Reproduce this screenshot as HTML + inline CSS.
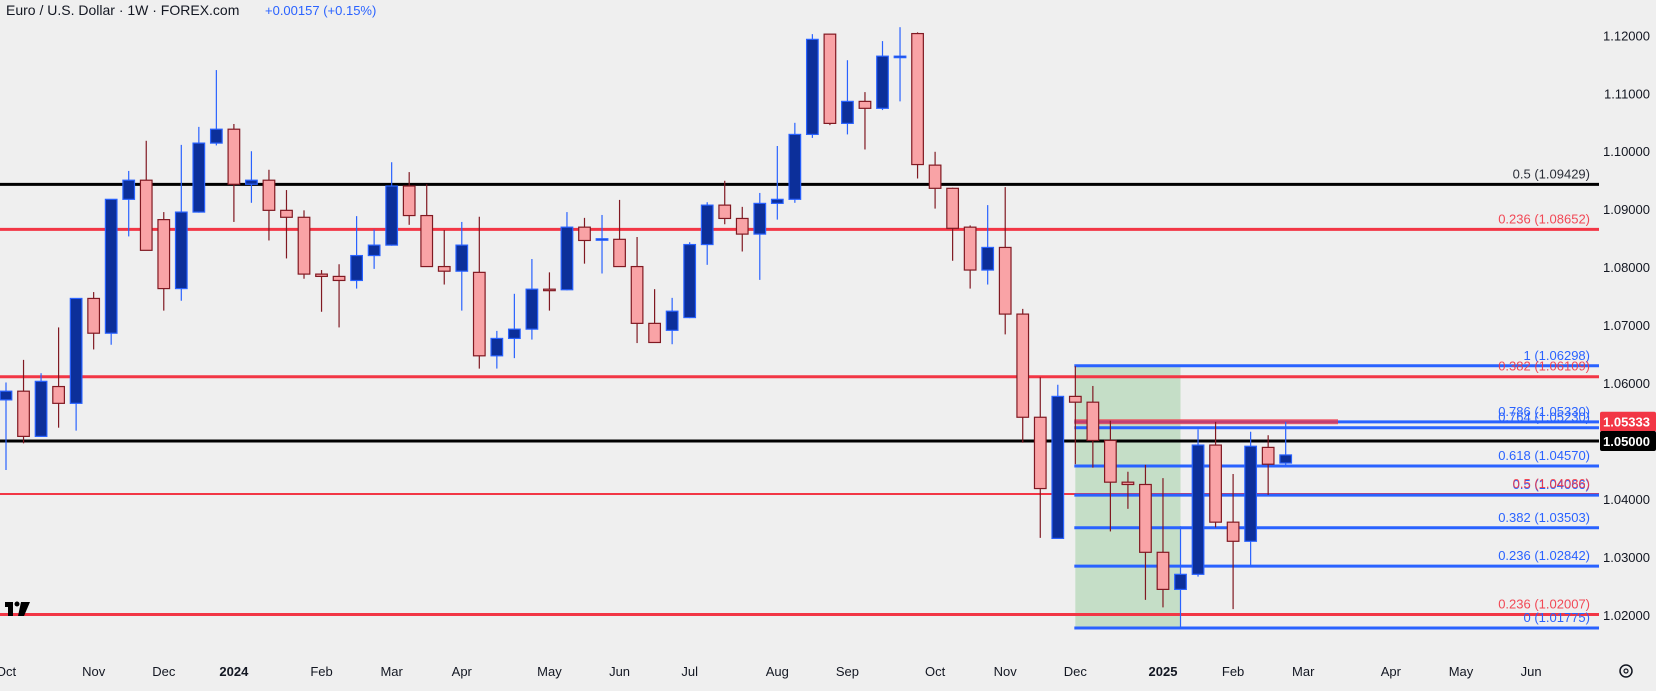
<!DOCTYPE html>
<html><head><meta charset="utf-8"><style>
html,body{margin:0;padding:0;background:#efefef;}
body{width:1656px;height:686px;overflow:hidden;font-family:"Liberation Sans",sans-serif;}
svg text{font-family:"Liberation Sans",sans-serif;}
</style></head><body>
<svg id="chart" width="1656" height="686" xmlns="http://www.w3.org/2000/svg">
<rect x="0" y="0" width="1656" height="686" fill="#efefef"/>
<g id="zone"></g>
<g id="hlines"></g>
<g id="candles"></g>
<g id="labels"></g>
<g id="yaxis"></g>
<g id="xaxis"></g>
<text x="6" y="15" font-size="14" fill="#131722">Euro / U.S. Dollar · 1W · FOREX.com</text>
<text x="265" y="15" font-size="13" fill="#2962ff">+0.00157 (+0.15%)</text>
<g><rect x="5" y="602" width="8" height="5" fill="#000"/><rect x="8" y="602" width="5" height="14" fill="#000"/><circle cx="17" cy="604" r="2.5" fill="#000"/><polygon points="21,602 30,602 24,616 18,616" fill="#000"/></g>
<g><circle cx="1626" cy="671" r="6" fill="none" stroke="#131722" stroke-width="1.5"/><circle cx="1626" cy="671" r="2" fill="none" stroke="#131722" stroke-width="1.2"/></g>
</svg>
<script>
const opens=[1.0571,1.0586,1.0508,1.0594,1.0565,1.0746,1.0686,1.0917,1.0950,1.0882,1.0763,1.0895,1.1014,1.1038,1.0943,1.0950,1.0898,1.0886,1.0788,1.0784,1.0777,1.0820,1.0838,1.0940,1.0889,1.0801,1.0793,1.0791,1.0647,1.0677,1.0693,1.0762,1.0761,1.0869,1.0848,1.0848,1.0801,1.0703,1.0691,1.0713,1.0839,1.0907,1.0884,1.0857,1.0910,1.0917,1.1029,1.1202,1.1048,1.1086,1.1074,1.1163,1.1203,1.0976,1.0936,1.0869,1.0795,1.0834,1.0719,1.0541,1.0332,1.0577,1.0567,1.0501,1.0429,1.0425,1.0308,1.0244,1.0270,1.0493,1.0360,1.0327,1.0489,1.0462];
const highs=[1.0601,1.0640,1.0617,1.0696,1.0746,1.0757,1.0917,1.0966,1.1018,1.0895,1.1011,1.1042,1.1140,1.1047,1.1000,1.0968,1.0933,1.0898,1.0795,1.0805,1.0888,1.0865,1.0981,1.0964,1.0943,1.0864,1.0878,1.0887,1.0690,1.0754,1.0814,1.0791,1.0895,1.0885,1.0890,1.0916,1.0852,1.0762,1.0747,1.0843,1.0912,1.0949,1.0904,1.0928,1.1009,1.1049,1.1202,1.1202,1.1157,1.1102,1.1190,1.1214,1.1205,1.0999,1.0937,1.0872,1.0907,1.0938,1.0728,1.0610,1.0597,1.0629,1.0595,1.0535,1.0447,1.0459,1.0436,1.0353,1.0520,1.0533,1.0443,1.0516,1.0510,1.0533];
const lows=[1.0450,1.0496,1.0507,1.0523,1.0518,1.0658,1.0666,1.0853,1.0829,1.0725,1.0742,1.0894,1.1010,1.0878,1.0911,1.0846,1.0815,1.0780,1.0723,1.0696,1.0763,1.0797,1.0837,1.0873,1.0801,1.0770,1.0725,1.0625,1.0625,1.0643,1.0675,1.0725,1.0760,1.0806,1.0789,1.0801,1.0669,1.0670,1.0667,1.0712,1.0804,1.0874,1.0827,1.0778,1.0882,1.0911,1.1023,1.1045,1.1029,1.1003,1.1071,1.1086,1.0953,1.0901,1.0811,1.0763,1.0770,1.0684,1.0497,1.0333,1.0332,1.0460,1.0454,1.0344,1.0383,1.0226,1.0213,1.0178,1.0266,1.0351,1.0210,1.0285,1.0407,1.0457];
const closes=[1.0586,1.0508,1.0603,1.0565,1.0746,1.0686,1.0917,1.0950,1.0829,1.0763,1.0895,1.1014,1.1038,1.0943,1.0950,1.0898,1.0886,1.0788,1.0784,1.0777,1.0820,1.0838,1.0940,1.0889,1.0801,1.0793,1.0838,1.0647,1.0677,1.0693,1.0762,1.0761,1.0869,1.0846,1.0849,1.0801,1.0703,1.0670,1.0724,1.0839,1.0907,1.0884,1.0857,1.0910,1.0917,1.1029,1.1193,1.1048,1.1086,1.1074,1.1164,1.1164,1.0977,1.0936,1.0867,1.0795,1.0834,1.0719,1.0541,1.0418,1.0577,1.0567,1.0501,1.0429,1.0425,1.0308,1.0244,1.0270,1.0493,1.0360,1.0327,1.0491,1.0460,1.0476];
const priceTicks=[1.12,1.11,1.10,1.09,1.08,1.07,1.06,1.04,1.03,1.02];
const monthLabels=["Oct","Nov","Dec","2024","Feb","Mar","Apr","May","Jun","Jul","Aug","Sep","Oct","Nov","Dec","2025","Feb","Mar","Apr","May","Jun"];
const monthBars=[0,5,9,13,18,22,26,31,35,39,44,48,53,57,61,66,70,74,79,83,87];
const fullLevels=[1.09429,1.08652,1.06109,1.05000,1.04086,1.02007];
const fullColors=["#000","#f23645","#f23645","#000","#f23645","#f23645"];
const fibLevels=[1.06298,1.05330,1.05230,1.04570,1.04066,1.03503,1.02842,1.01775];
const fibLabels=["1 (1.06298)","0.786 (1.05330)","0.764 (1.05230)","0.618 (1.04570)","0.5 (1.04066)","0.382 (1.03503)","0.236 (1.02842)","0 (1.01775)"];
const redLabels=["0.5 (1.09429)","0.236 (1.08652)","0.382 (1.06109)","0.5 (1.04086)","0.236 (1.02007)"];
const redLabelLevels=[1.09429,1.08652,1.06109,1.04086,1.02007];
const redLabelColors=["#131722","#f23645","#f23645","#f23645","#f23645"];

const NS="http://www.w3.org/2000/svg";
const y=p=>35.3+(1.12-p)*5796;
const x=i=>6+i*17.53;
const PR=1599;
function mk(tag,attrs,parent){const e=document.createElementNS(NS,tag);for(const k in attrs)e.setAttribute(k,attrs[k]);parent.appendChild(e);return e;}
const G=id=>document.getElementById(id);

let z=mk('rect',{x:x(61),y:y(1.06298),width:x(67)-x(61),height:y(1.01775)-y(1.06298),fill:'#c5dec7'},G('zone'));



fullLevels.forEach((p,i)=>{
  const l=mk('line',{x1:0,x2:PR,y1:y(p),y2:y(p),stroke:fullColors[i],'stroke-width':p===1.04086?2:3},G('hlines'));
  
  
});
fibLevels.forEach((p,i)=>{
  const l=mk('line',{x1:x(61)-1,x2:PR,y1:y(p),y2:y(p),stroke:'#2962ff','stroke-width':3},G('hlines'));
  
  
});
let rb=mk('rect',{x:x(61)-1,y:y(1.05333)-2.5,width:1339-x(61),height:5,fill:'#f23645',opacity:0.75},G('hlines'));



for(let i=0;i<opens.length;i++){
  const up=closes[i]>=opens[i];
  const cx=x(i);
  const g=mk('g',{},G('candles'));
  
  
  mk('line',{x1:cx,x2:cx,y1:y(highs[i]),y2:y(lows[i]),stroke:up?'#2962ff':'#801922','stroke-width':1.2},g);
  const t=y(Math.max(opens[i],closes[i])),b=y(Math.min(opens[i],closes[i]));
  mk('rect',{x:cx-5.8,y:t,width:11.6,height:Math.max(1.5,b-t),fill:up?'#0c2f9a':'#f9a3a6',stroke:up?'#2962ff':'#801922','stroke-width':1.2},g);
}

fibLevels.forEach((p,i)=>{
  const t=mk('text',{x:1590,y:y(p)-6,'font-size':13,fill:'#2962ff','text-anchor':'end'},G('labels'));
  t.textContent=fibLabels[i];
  
  
});
redLabelLevels.forEach((p,i)=>{
  const t=mk('text',{x:1590,y:y(p)-6,'font-size':13,fill:redLabelColors[i],'text-anchor':'end',opacity:0.9},G('labels'));
  t.textContent=redLabels[i];
  
  
});

priceTicks.forEach(p=>{
  const t=mk('text',{x:1650,y:y(p)+5,'font-size':13,fill:'#131722','text-anchor':'end'},G('yaxis'));
  t.textContent=p.toFixed(5);
  
  
});
[[1.05333,'#f23645'],[1.05,'#000000']].forEach(([p,c])=>{
  const r=mk('rect',{x:1600,y:y(p)-10,width:56,height:20,fill:c,rx:2},G('yaxis'));
  
  
  const t=mk('text',{x:1650,y:y(p)+5,'font-size':13,fill:'#fff','text-anchor':'end','font-weight':'bold'},G('yaxis'));
  t.textContent=p.toFixed(5);
  
  
});

monthLabels.forEach((m,i)=>{
  const t=mk('text',{x:x(monthBars[i]),y:676,'font-size':13,fill:'#131722','text-anchor':'middle','font-weight':(m==='2024'||m==='2025')?'bold':'normal'},G('xaxis'));
  t.textContent=m;
  
  
});
</script>
</body></html>
